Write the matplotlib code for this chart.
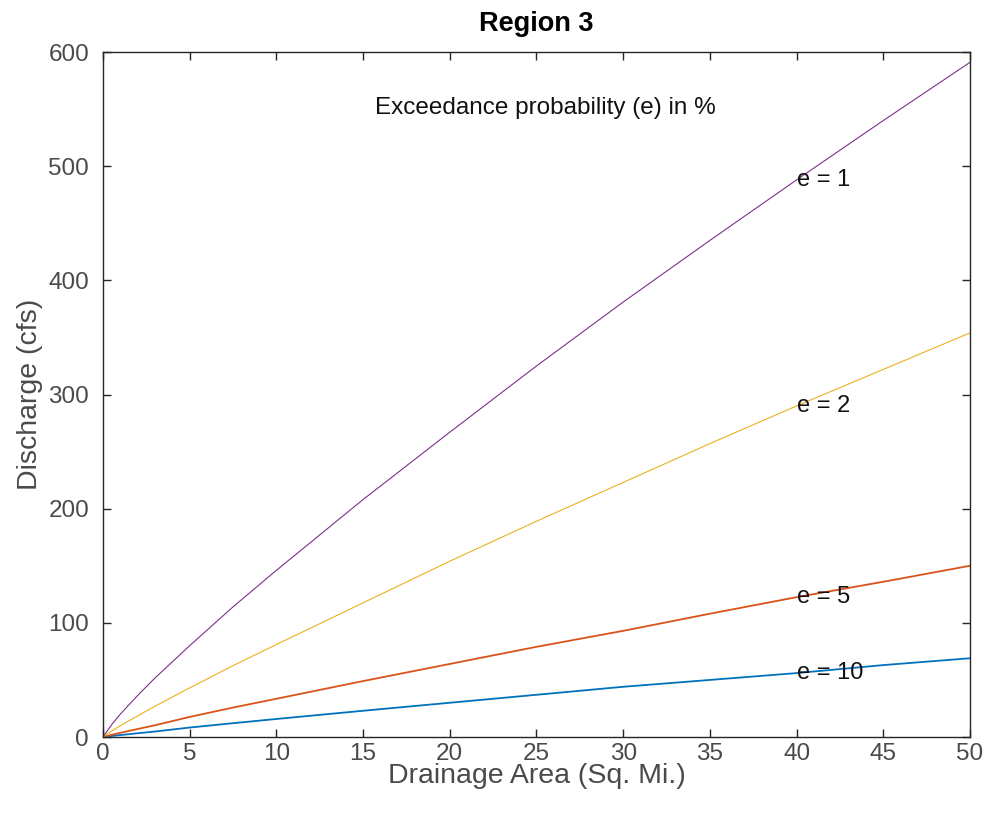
import matplotlib
matplotlib.use("Agg")
import matplotlib.pyplot as plt

# drainage area (sq. mi.) and discharge (cfs)
area = [0, 0.5, 1, 2, 3, 5, 7.5, 10, 15, 20, 25, 30, 35, 40, 45, 50]
q_e10 = [0, 0.9, 1.7, 3.3, 4.8, 8.3, 12.1, 15.8, 23, 30, 37, 44, 50, 56, 63, 69]
q_e5 = [0, 1.9, 3.7, 7, 10.3, 17.6, 25.8, 33.5, 49, 64, 79, 93, 108, 122.5, 136, 150]
q_e2 = [0, 5.3, 9.9, 18.5, 27, 43, 62.5, 81, 117.5, 154, 189, 223, 257, 290, 322, 354]
q_e1 = [0, 10.8, 20, 36.4, 51.7, 80, 114, 146, 208, 267, 325, 381, 435, 488, 540, 591]

series = [("10", q_e10, "#0072BD", 1.3), ("5", q_e5, "#D95319", 1.3),
          ("2", q_e2, "#EDB120", 0.8), ("1", q_e1, "#7E2F8E", 0.8)]
label_x = 40

plt.rcParams["font.family"] = ["Liberation Sans", "DejaVu Sans"]
axc = "#262626"
txtc = "#4a4a4a"

fig = plt.figure(figsize=(9.89, 8.18), dpi=100)
ax = fig.add_axes([0.1041, 0.0990, 0.8767, 0.8374])

for e, q, col, lw in series:
    ax.plot(area, q, color=col, lw=lw)
    ax.text(label_x, q[area.index(label_x)], f"e = {e}", fontsize=17,
            ha="left", va="center", color="#111111")

ax.text(25.5, 551, "Exceedance probability (e) in %", fontsize=17.5,
        ha="center", va="center", color="#111111")

ax.set_xlim(0, 50)
ax.set_ylim(0, 600)
ax.set_xticks(range(0, 51, 5))
ax.set_yticks(range(0, 601, 100))
ax.tick_params(direction="in", top=True, right=True, labelsize=17.5,
               color=axc, labelcolor=txtc, length=6, width=1, pad=4)
ax.tick_params(axis="y", pad=10)
for s in ax.spines.values():
    s.set_color(axc)
    s.set_linewidth(1)

ax.set_title("Region 3", fontsize=19.5, fontweight="bold", pad=15)
ax.set_xlabel("Drainage Area (Sq. Mi.)", fontsize=20.5, color=txtc, labelpad=-1)
ax.set_ylabel("Discharge (cfs)", fontsize=20.5, color=txtc, labelpad=4)

fig.savefig("out.png", dpi=100)
